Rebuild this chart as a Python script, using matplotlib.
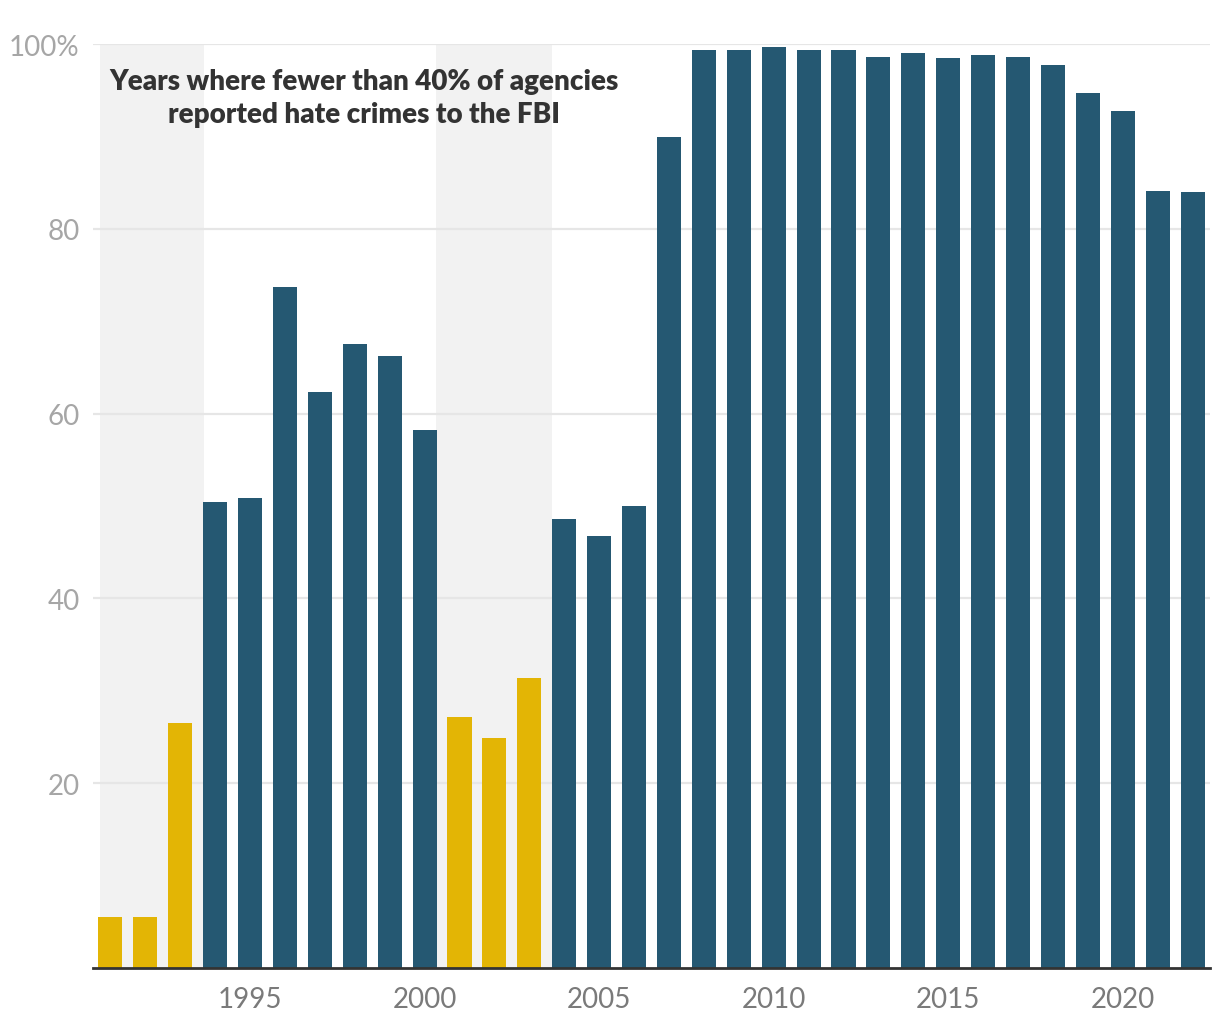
import matplotlib.pyplot as plt
import numpy as np

# -------------- Data ---------------------------------------------
Years = list(range(1991, 2023))
PctReporting = [5.5, 5.5, 26.5, 50.4, 50.9, 73.7, 62.3, 67.5, 66.2, 58.2,
                27.2, 24.9, 31.4, 48.6, 46.8, 50.0, 89.9, 99.4, 99.4, 99.7,
                99.4, 99.4, 98.6, 99.0, 98.5, 98.8, 98.6, 97.7, 94.7, 92.7,
                84.1, 84.0]
LowYears = [1991, 1992, 1993, 2001, 2002, 2003]
ShadeSpans = [(1990.7, 1993.69), (2000.34, 2003.66)]
YTicks = [20, 40, 60, 80, 100]
YTickLabels = ["20", "40", "60", "80", "100%"]
XTicks = [1995, 2000, 2005, 2010, 2015, 2020]
# -----------------------------------------------------------------

BLUE = "#255872"
YELLOW = "#e3b505"

plt.rcParams['font.family'] = ['Lato', 'DejaVu Sans']

fig = plt.figure(figsize=(12.2, 10.2), dpi=100)
ax = fig.add_axes([93 / 1220, 51 / 1020, 1117 / 1220, 924 / 1020])

for x0, x1 in ShadeSpans:
    ax.axvspan(x0, x1, color="#f2f2f2", zorder=0, lw=0)

colors = [YELLOW if y in LowYears else BLUE for y in Years]
ax.bar(Years, PctReporting, width=0.69, color=colors, zorder=3)

ax.set_xlim(1990.5, 2022.5)
ax.set_ylim(0, 100)
ax.set_yticks(YTicks)
ax.set_yticklabels(YTickLabels)
ax.set_xticks(XTicks)
ax.yaxis.grid(True, color="#e6e6e6", linewidth=1.6, zorder=1)
ax.set_axisbelow(False)
for line in ax.get_ygridlines():
    line.set_zorder(1)

for s in ["top", "right", "left"]:
    ax.spines[s].set_visible(False)
ax.spines["bottom"].set_color("#333333")
ax.spines["bottom"].set_linewidth(2)
ax.spines["bottom"].set_zorder(4)

ax.tick_params(axis="y", length=0, pad=9.5, labelsize=20, labelcolor="#a6a6a6")
ax.tick_params(axis="x", length=0, pad=13, labelsize=20, labelcolor="#7a7a7a")

ax.text(1998.25, 94.2, "Years where fewer than 40% of agencies\nreported hate crimes to the FBI",
        ha="center", va="center", fontsize=20, fontweight="heavy", color="#333333",
        linespacing=1.32, zorder=5)

plt.savefig("out.png", dpi=100)
